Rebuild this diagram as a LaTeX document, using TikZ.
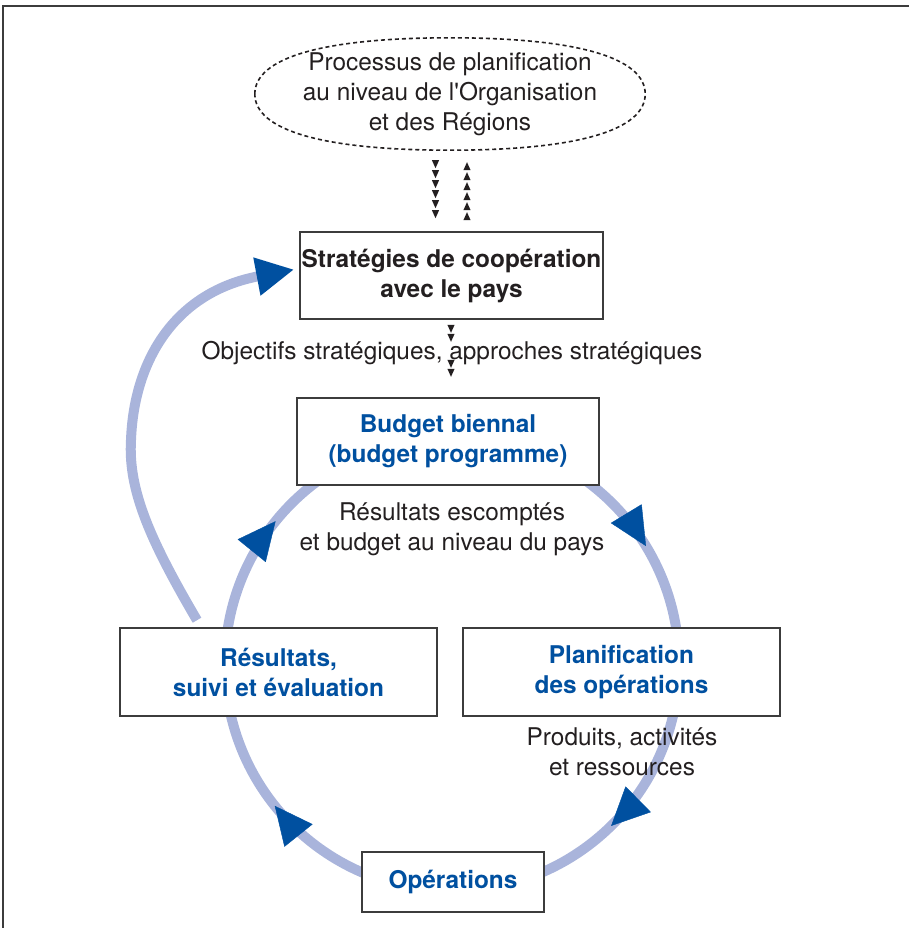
\documentclass[tikz,border=0pt]{standalone}
\usepackage{fontspec}
\setmainfont{TeX Gyre Heros}[Ligatures=TeXOff]
\usetikzlibrary{shapes.geometric,arrows.meta,decorations.markings,calc}
\definecolor{ringc}{RGB}{169,180,219}
\definecolor{dkblue}{RGB}{0,80,160}
\definecolor{txt}{RGB}{35,31,32}
\definecolor{framec}{RGB}{60,60,60}
\newcommand\mytri{\fill[txt] (0pt,0pt) -- (-8pt,3.6pt) -- (-8pt,-3.6pt) -- cycle;}
\begin{document}
\begin{tikzpicture}[x=1pt,y=1pt,
  every node/.style={font=\fontsize{24.4}{30}\selectfont, text=txt},
  box/.style={draw=framec, line width=1.6pt, fill=white, rectangle, inner sep=0pt,
    align=center, font=\fontsize{24.4}{30}\selectfont\bfseries},
  bluebox/.style={box, text=dkblue},
  lbl/.style={align=center, inner sep=0pt},
  ring/.style={draw=ringc, line width=10pt},
  ringarrow/.style={postaction={decorate, decoration={markings,
    mark=at position #1 with {\arrow[dkblue, line width=0.4pt]{Triangle[length=38pt,width=36pt]}}}}},
  tinydown/.style={postaction={decorate, decoration={markings,
    mark=between positions #1 with {\mytri}}}},
  ovalline/.style={draw=txt, line width=1.6pt, dash pattern=on 4pt off 3pt}
]
\useasboundingbox (0,0) rectangle (909,-928);
% frame
\draw[framec, line width=2pt] (3,-928) -- (3,-6) -- (909,-6);

% ring arcs
\coordinate (c) at (452,-664);
\draw[ring, ringarrow=0.618] ($(c)+(175:227)$) arc[start angle=175, end angle=120, radius=227];
\draw[ring, ringarrow=0.522] ($(c)+(60:227)$) arc[start angle=60, end angle=5, radius=227];
\draw[ring, ringarrow=0.623] ($(c)+(-5:227)$) arc[start angle=-5, end angle=-70, radius=227];
\draw[ring, ringarrow=0.482] ($(c)+(-110:227)$) arc[start angle=-110, end angle=-175, radius=227];

% oval (superellipse-like)
\node[rectangle, minimum width=390pt, minimum height=112pt, inner sep=0pt] (ell) at (450,-94) {};
\draw[ovalline] (ell.west) .. controls +(0,36.4) and +(-126.75,0) .. (ell.north)
  .. controls +(126.75,0) and +(0,36.4) .. (ell.east)
  .. controls +(0,-36.4) and +(126.75,0) .. (ell.south)
  .. controls +(-126.75,0) and +(0,-36.4) .. (ell.west);
\node[lbl] (elltext) at ($(ell.center)+(0,-0.5)$) {Processus de planification\\au niveau de l'Organisation\\et des Régions};

% boxes
\node[box, minimum width=303pt, minimum height=87pt] (strat) at (451.5,-275.5)
  {Stratégies de coopération\\avec le pays};
\node[bluebox, minimum width=302pt, minimum height=87pt] (budget) at (448,-441.5)
  {Budget biennal\\(budget programme)};
\node[bluebox, minimum width=317pt, minimum height=88pt] (res) at (278.5,-672)
  {Résultats,\\suivi et évaluation};
\node[bluebox, minimum width=317pt, minimum height=88pt] (plan) at (621.5,-672)
  {Planification\\des opérations};
\node[bluebox, minimum width=182pt, minimum height=60pt] (ops) at (453,-882)
  {Opérations};

% big outer arc
\coordinate (bigstart) at ($(res.north)+(-81.5,7)$);
\coordinate (bigend) at ($(strat.west)+(-5,6)$);
\draw[ring, -{Triangle[length=38pt,width=36pt,color=dkblue]}]
  (bigstart) .. controls (150,-540) and (128,-490) .. (131,-440)
  .. controls (134,-360) and (175,-292) .. (bigend);

% tiny arrow columns
\path[tinydown={12pt and 62.5pt step 10pt}] ($(ell.south)+(-14.5,-6)$) -- ($(strat.north)+(-16,6)$);
\path[tinydown={13pt and 63.5pt step 10pt}] ($(strat.north)+(15.5,6)$) -- ($(ell.south)+(17,-6)$);
\path[postaction={decorate, decoration={markings,
    mark=at position 10pt with {\mytri},
    mark=at position 19pt with {\mytri},
    mark=at position 45pt with {\mytri},
    mark=at position 54pt with {\mytri}}}]
  ($(strat.south)+(-0.5,-3)$) -- ($(budget.north)+(3,2)$);

% labels
\node[lbl] (obj) at (452,-353) {Objectifs stratégiques, approches stratégiques};
\node[lbl] (resesc) at (452,-529) {Résultats escomptés\\et budget au niveau du pays};
\node[lbl] (prod) at (622,-752) {Produits, activités\\et ressources};
\end{tikzpicture}
\end{document}
